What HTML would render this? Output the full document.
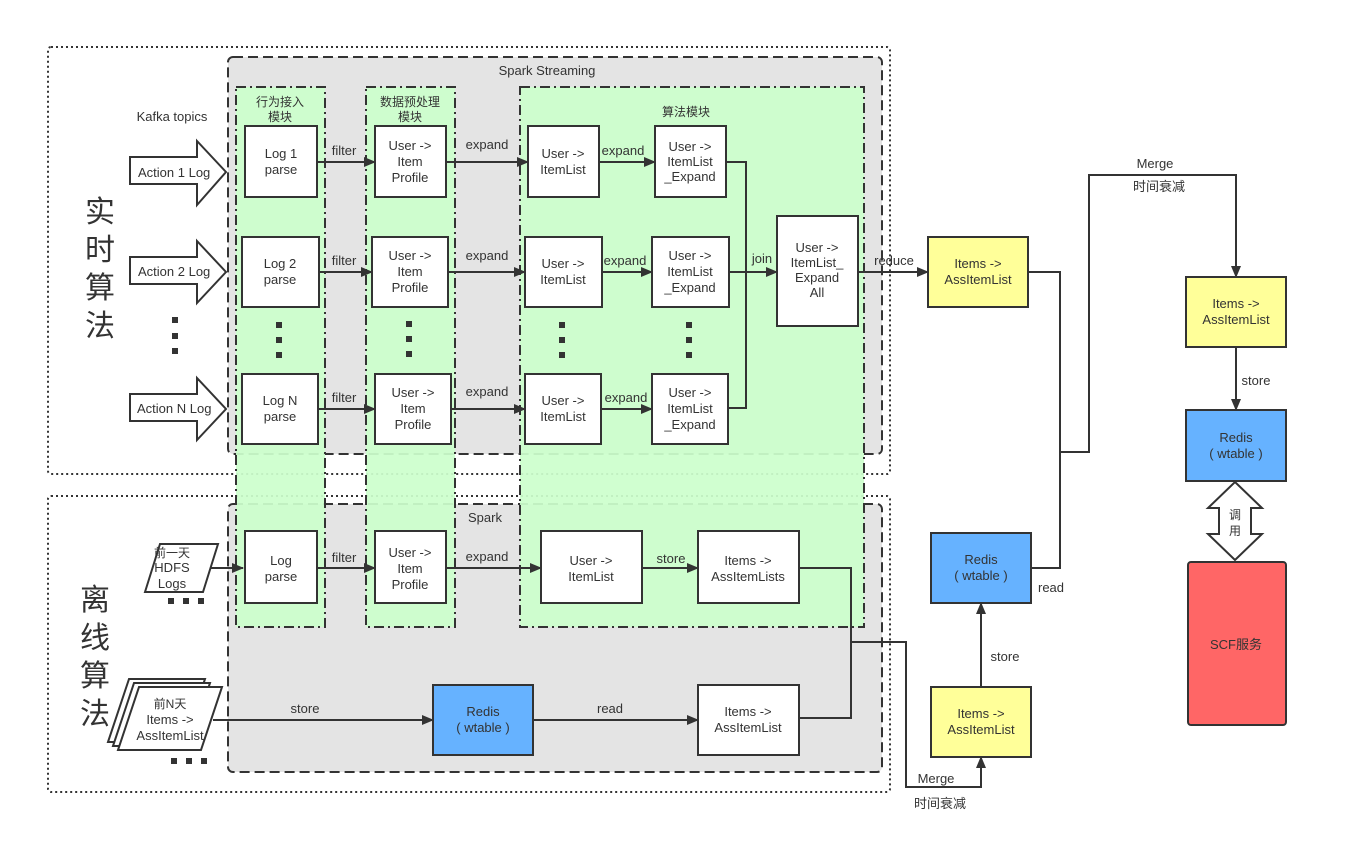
<!DOCTYPE html>
<html><head><meta charset="utf-8"><style>
html,body{margin:0;padding:0;background:#fff;}
svg{display:block;font-family:"Liberation Sans","Noto Sans CJK SC",sans-serif;}
</style></head><body>
<svg width="1368" height="856" viewBox="0 0 1368 856" xmlns="http://www.w3.org/2000/svg">
<defs>
<marker id="a" markerWidth="12" markerHeight="10" refX="11" refY="5" orient="auto" markerUnits="userSpaceOnUse">
<path d="M0,0 L12,5 L0,10 Z" fill="#333"/></marker>
</defs>
<rect width="1368" height="856" fill="#fff"/>
<!-- outer dotted boxes -->
<rect x="48" y="47" width="842" height="427" rx="3" fill="none" stroke="#333" stroke-width="2" stroke-dasharray="2,3"/>
<rect x="48" y="496" width="842" height="296" rx="3" fill="none" stroke="#333" stroke-width="2" stroke-dasharray="2,3"/>
<!-- grey spark boxes -->
<rect x="228" y="57" width="654" height="397" rx="5" fill="#e4e4e4" stroke="#333" stroke-width="2" stroke-dasharray="10,5"/>
<rect x="228" y="504" width="654" height="268" rx="5" fill="#e4e4e4" stroke="#333" stroke-width="2" stroke-dasharray="10,5"/>
<!-- green columns -->
<g fill="#ccffcc" fill-opacity="0.93" stroke="#333" stroke-width="2" stroke-dasharray="10,4,2,4">
<rect x="236" y="87" width="89" height="540"/>
<rect x="366" y="87" width="89" height="540"/>
<rect x="520" y="87" width="344" height="540"/>
</g>
<g font-size="13" fill="#333" text-anchor="middle">
<text x="547" y="75">Spark Streaming</text>
<text x="485" y="522">Spark</text>
<text x="172" y="121">Kafka topics</text>
<text x="280" y="106" font-size="12">行为接入</text>
<text x="280" y="121" font-size="12">模块</text>
<text x="410" y="106" font-size="12">数据预处理</text>
<text x="410" y="121" font-size="12">模块</text>
<text x="686" y="116" font-size="12">算法模块</text>
</g>
<!-- big labels -->
<g font-size="30" fill="#333" text-anchor="middle">
<text x="100" y="222">实</text><text x="100" y="260">时</text><text x="100" y="298">算</text><text x="100" y="336">法</text>
<text x="95" y="610">离</text><text x="95" y="648">线</text><text x="95" y="686">算</text><text x="95" y="724">法</text>
</g>
<!-- action arrows -->
<g fill="#fff" stroke="#333" stroke-width="2">
<path d="M130,157 H197 V141 L226,172 L197,205 V184 H130 Z"/>
<path d="M130,257 H197 V241 L226,272 L197,303 V284 H130 Z"/>
<path d="M130,394 H197 V378 L226,409 L197,440 V421 H130 Z"/>
</g>
<g font-size="13" fill="#333">
<text x="138" y="177">Action 1 Log</text>
<text x="138" y="276">Action 2 Log</text>
<text x="137" y="413">Action N Log</text>
</g>
<!-- dots -->
<g fill="#333">
<rect x="172" y="317" width="6" height="6"/><rect x="172" y="333" width="6" height="6"/><rect x="172" y="348" width="6" height="6"/>
<rect x="276" y="322" width="6" height="6"/><rect x="276" y="337" width="6" height="6"/><rect x="276" y="352" width="6" height="6"/>
<rect x="406" y="321" width="6" height="6"/><rect x="406" y="336" width="6" height="6"/><rect x="406" y="351" width="6" height="6"/>
<rect x="559" y="322" width="6" height="6"/><rect x="559" y="337" width="6" height="6"/><rect x="559" y="352" width="6" height="6"/>
<rect x="686" y="322" width="6" height="6"/><rect x="686" y="337" width="6" height="6"/><rect x="686" y="352" width="6" height="6"/>
<rect x="168" y="598" width="6" height="6"/><rect x="183" y="598" width="6" height="6"/><rect x="198" y="598" width="6" height="6"/>
<rect x="171" y="758" width="6" height="6"/><rect x="186" y="758" width="6" height="6"/><rect x="201" y="758" width="6" height="6"/>
</g>
<!-- connectors -->
<g fill="none" stroke="#333" stroke-width="2">
<path d="M317,162 H375" marker-end="url(#a)"/>
<path d="M319,272 H372" marker-end="url(#a)"/>
<path d="M318,409 H375" marker-end="url(#a)"/>
<path d="M317,568 H375" marker-end="url(#a)"/>
<path d="M446,162 H528" marker-end="url(#a)"/>
<path d="M448,272 H525" marker-end="url(#a)"/>
<path d="M451,409 H525" marker-end="url(#a)"/>
<path d="M446,568 H541" marker-end="url(#a)"/>
<path d="M599,162 H655" marker-end="url(#a)"/>
<path d="M602,272 H652" marker-end="url(#a)"/>
<path d="M601,409 H652" marker-end="url(#a)"/>
<path d="M642,568 H698" marker-end="url(#a)"/>
<path d="M726,162 H746 V408 H728"/>
<path d="M729,272 H777" marker-end="url(#a)"/>
<path d="M858,272 H928" marker-end="url(#a)"/>
<path d="M1028,272 H1060 V568 H1031"/>
<path d="M1060,452 H1089 V175 H1236 V277" marker-end="url(#a)"/>
<path d="M1236,347 V410" marker-end="url(#a)"/>
<path d="M210,568 H243" marker-end="url(#a)"/>
<path d="M213,720 H433" marker-end="url(#a)"/>
<path d="M533,720 H698" marker-end="url(#a)"/>
<path d="M799,568 H851 V718 H799"/>
<path d="M851,642 H906 V787 H981 V757" marker-end="url(#a)"/>
<path d="M981,687 V603" marker-end="url(#a)"/>
</g>
<g font-size="13" fill="#333" text-anchor="middle">
<text x="344" y="155">filter</text><text x="344" y="265">filter</text><text x="344" y="402">filter</text><text x="344" y="562">filter</text>
<text x="487" y="149">expand</text><text x="487" y="260">expand</text><text x="487" y="396">expand</text><text x="487" y="561">expand</text>
<text x="623" y="155">expand</text><text x="625" y="265">expand</text><text x="626" y="402">expand</text>
<text x="671" y="563">store</text>
<text x="762" y="263">join</text>
<text x="894" y="265">reduce</text>
<text x="1155" y="168">Merge</text>
<text x="1159" y="191">时间衰减</text>
<text x="1256" y="385">store</text>
<text x="1051" y="592">read</text>
<text x="1005" y="661">store</text>
<text x="936" y="783">Merge</text>
<text x="940" y="808">时间衰减</text>
<text x="305" y="713">store</text>
<text x="610" y="713">read</text>
</g>
<!-- boxes -->
<g stroke="#333" stroke-width="2" fill="#fff">
<rect x="245" y="126" width="72" height="71"/>
<rect x="242" y="237" width="77" height="70"/>
<rect x="242" y="374" width="76" height="70"/>
<rect x="245" y="531" width="72" height="72"/>
<rect x="375" y="126" width="71" height="71"/>
<rect x="372" y="237" width="76" height="70"/>
<rect x="375" y="374" width="76" height="70"/>
<rect x="375" y="531" width="71" height="72"/>
<rect x="528" y="126" width="71" height="71"/>
<rect x="525" y="237" width="77" height="70"/>
<rect x="525" y="374" width="76" height="70"/>
<rect x="541" y="531" width="101" height="72"/>
<rect x="655" y="126" width="71" height="71"/>
<rect x="652" y="237" width="77" height="70"/>
<rect x="652" y="374" width="76" height="70"/>
<rect x="777" y="216" width="81" height="110"/>
<rect x="698" y="531" width="101" height="72"/>
<rect x="698" y="685" width="101" height="70"/>
<rect x="928" y="237" width="100" height="70" fill="#ffff99"/>
<rect x="1186" y="277" width="100" height="70" fill="#ffff99"/>
<rect x="931" y="687" width="100" height="70" fill="#ffff99"/>
<rect x="1186" y="410" width="100" height="71" fill="#66b2ff"/>
<rect x="931" y="533" width="100" height="70" fill="#66b2ff"/>
<rect x="433" y="685" width="100" height="70" fill="#66b2ff"/>
<rect x="1188" y="562" width="98" height="163" rx="3" fill="#ff6666"/>
<path d="M1235,482 L1262,508 H1251 V534 H1262 L1235,560 L1208,534 H1219 V508 H1208 Z"/>
<path d="M145,592 L160,544 H218 L203,592 Z"/>
<path d="M108,742 L129,679 H205 L184,742 Z"/>
<path d="M113,746 L134,683 H210 L189,746 Z"/>
<path d="M118,750 L139,687 H222 L201,750 Z"/>
</g>
<g font-size="13" fill="#333" text-anchor="middle">
<text x="281" y="158">Log 1</text><text x="281" y="174">parse</text>
<text x="280" y="268">Log 2</text><text x="280" y="284">parse</text>
<text x="280" y="405">Log N</text><text x="280" y="421">parse</text>
<text x="281" y="565">Log</text><text x="281" y="581">parse</text>
<text x="410" y="150">User -&gt;</text><text x="410" y="166">Item</text><text x="410" y="182">Profile</text>
<text x="410" y="260">User -&gt;</text><text x="410" y="276">Item</text><text x="410" y="292">Profile</text>
<text x="413" y="397">User -&gt;</text><text x="413" y="413">Item</text><text x="413" y="429">Profile</text>
<text x="410" y="557">User -&gt;</text><text x="410" y="573">Item</text><text x="410" y="589">Profile</text>
<text x="563" y="158">User -&gt;</text><text x="563" y="174">ItemList</text>
<text x="563" y="268">User -&gt;</text><text x="563" y="284">ItemList</text>
<text x="563" y="405">User -&gt;</text><text x="563" y="421">ItemList</text>
<text x="591" y="565">User -&gt;</text><text x="591" y="581">ItemList</text>
<text x="690" y="151">User -&gt;</text><text x="690" y="166">ItemList</text><text x="690" y="181">_Expand</text>
<text x="690" y="260">User -&gt;</text><text x="690" y="276">ItemList</text><text x="690" y="292">_Expand</text>
<text x="690" y="397">User -&gt;</text><text x="690" y="413">ItemList</text><text x="690" y="429">_Expand</text>
<text x="817" y="252">User -&gt;</text><text x="817" y="267">ItemList_</text><text x="817" y="282">Expand</text><text x="817" y="297">All</text>
<text x="748" y="565">Items -&gt;</text><text x="748" y="581">AssItemLists</text>
<text x="748" y="716">Items -&gt;</text><text x="748" y="732">AssItemList</text>
<text x="978" y="268">Items -&gt;</text><text x="978" y="284">AssItemList</text>
<text x="1236" y="308">Items -&gt;</text><text x="1236" y="324">AssItemList</text>
<text x="981" y="718">Items -&gt;</text><text x="981" y="734">AssItemList</text>
<text x="1236" y="442">Redis</text><text x="1236" y="458">( wtable )</text>
<text x="981" y="564">Redis</text><text x="981" y="580">( wtable )</text>
<text x="483" y="716">Redis</text><text x="483" y="732">( wtable )</text>
<text x="1236" y="649">SCF服务</text>
<text x="1235" y="519" font-size="12">调</text><text x="1235" y="535" font-size="12">用</text>
<text x="172" y="557" font-size="12">前一天</text><text x="172" y="572">HDFS</text><text x="172" y="588">Logs</text>
<text x="170" y="708" font-size="12">前N天</text><text x="170" y="724">Items -&gt;</text><text x="170" y="740">AssItemList</text>
</g>
</svg>
</body></html>
